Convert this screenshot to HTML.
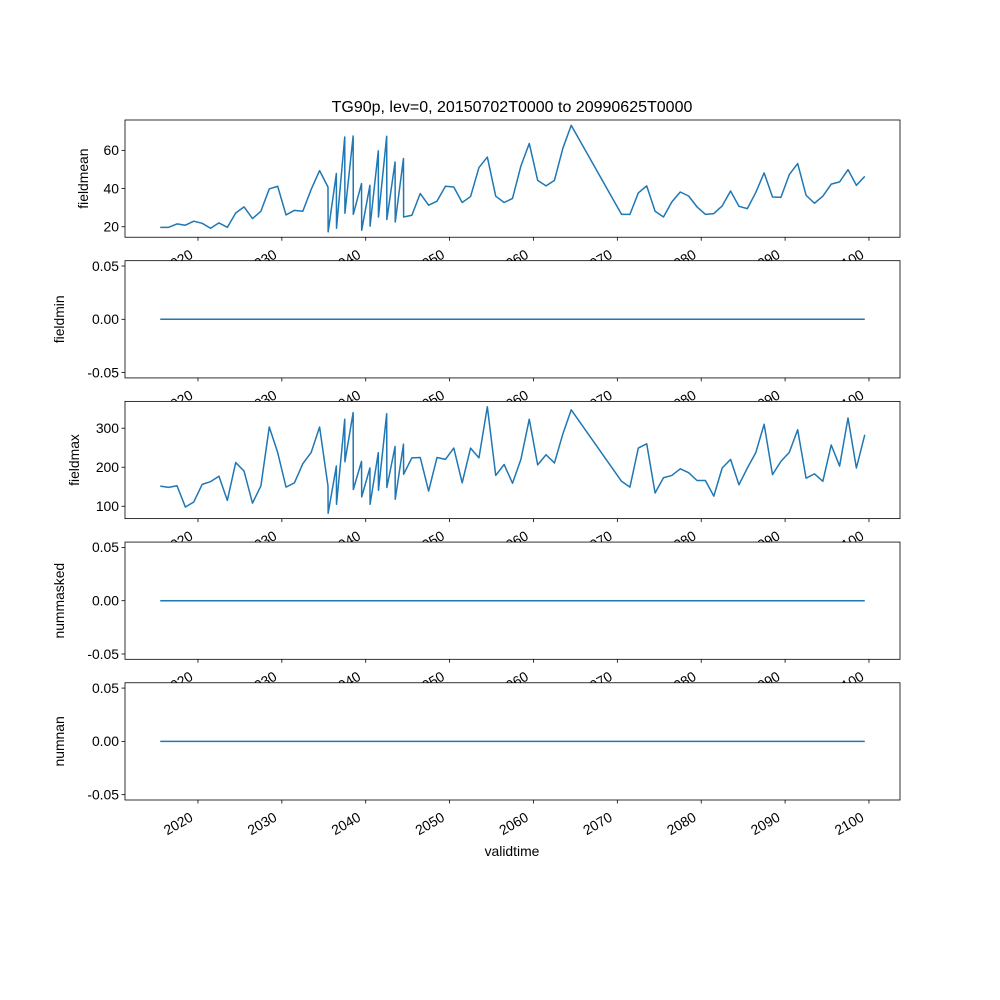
<!DOCTYPE html>
<html><head><meta charset="utf-8"><style>body{margin:0;background:#fff}svg{display:block;font-family:"Liberation Sans","DejaVu Sans",sans-serif}</style></head>
<body>
<svg id="fig" width="1000" height="1000" xmlns="http://www.w3.org/2000/svg">
<text x="512" y="112" text-anchor="middle" font-size="16">TG90p, lev=0, 20150702T0000 to 20990625T0000</text>
<text x="512" y="856" text-anchor="middle" font-size="13.9">validtime</text>
</svg>
<script>
// years with one sample each
const yearsA = [2015.5,2016.5,2017.5,2018.5,2019.5,2020.5,2021.5,2022.5,2023.5,2024.5,2025.5,2026.5,2027.5,2028.5,2029.5,2030.5,2031.5,2032.5,2033.5,2034.5];
const pairYears = [2035.5,2036.5,2037.5,2038.5,2039.5,2040.5,2041.5,2042.5,2043.5,2044.5];
const yearsB = [2045.5,2046.5,2047.5,2048.5,2049.5,2050.5,2051.5,2052.5,2053.5,2054.5,2055.5,2056.5,2057.5,2058.5,2059.5,2060.5,2061.5,2062.5,2063.5,2064.5];
const yearsC = [2070.5,2071.5,2072.5,2073.5,2074.5,2075.5,2076.5,2077.5,2078.5,2079.5,2080.5,2081.5,2082.5,2083.5,2084.5,2085.5,2086.5,2087.5,2088.5,2089.5,2090.5,2091.5,2092.5,2093.5,2094.5,2095.5,2096.5,2097.5,2098.5,2099.5];

const meanA = [19.7,19.7,21.5,20.8,22.9,21.8,19.2,22.0,19.7,27.2,30.4,24.3,28.1,39.8,41.2,26.2,28.6,28.1,39.6,49.4];
const meanPairs = [[40.8,17.3],[47.9,19.2],[67.0,27.1],[67.5,26.5],[42.6,18.2],[41.7,20.3],[59.7,25.1],[67.4,23.8],[53.9,22.5],[55.7,25.1]];
const meanB = [26.0,37.4,31.3,33.4,41.2,40.8,32.7,35.8,51.0,56.5,36.0,32.7,34.8,51.8,63.6,44.3,41.4,44.3,61.0,73.1];
const meanC = [26.5,26.5,37.7,41.4,28.1,25.1,33.0,38.2,36.1,30.4,26.5,26.9,30.9,38.7,30.7,29.5,37.9,48.2,35.6,35.4,47.3,53.1,36.5,32.3,36.0,42.3,43.5,49.9,41.7,46.4];

const maxA = [151.7,148.3,152.6,98,111,156,163,177,115,212,190,108,152,303,238,149,160,209,238,303];
const maxPairs = [[152,82],[203,105],[323,214],[340,143],[215,124],[198,105],[237,141],[337,148],[253,118],[259,182]];
const maxB = [224,225,139,225,220,249,160,249,224,355,179,207,159,220,323,206,232,211,285,347];
const maxC = [164,149,249,260,134,173,179,196,186,166,166,126,198,220,155,198,237,310,181,215,238,296,172,183,164,257,203,326,198,283];

const xTicks = [2020,2030,2040,2050,2060,2070,2080,2090,2100];
const meanTicks = [20,40,60];
const maxTicks = [100,200,300];
const zeroTicks = [-0.05,0.00,0.05];
const panelNames = ['fieldmean','fieldmin','fieldmax','nummasked','numnan'];

function buildSeries(a,pairs,b,c){
  const t=[],v=[];
  yearsA.forEach((y,i)=>{t.push(y);v.push(a[i]);});
  pairYears.forEach((y,i)=>{t.push(y);v.push(pairs[i][0]);t.push(y+0.02);v.push(pairs[i][1]);});
  yearsB.forEach((y,i)=>{t.push(y);v.push(b[i]);});
  yearsC.forEach((y,i)=>{t.push(y);v.push(c[i]);});
  return {t,v};
}
const sMean=buildSeries(meanA,meanPairs,meanB,meanC);
const sMax=buildSeries(maxA,maxPairs,maxB,maxC);
const zeroV=sMean.t.map(()=>0);
const series=[
 {t:sMean.t,v:sMean.v,ticks:meanTicks,fmt:x=>String(x)},
 {t:sMean.t,v:zeroV,ticks:zeroTicks,fmt:x=>x.toFixed(2)},
 {t:sMax.t,v:sMax.v,ticks:maxTicks,fmt:x=>String(x)},
 {t:sMean.t,v:zeroV,ticks:zeroTicks,fmt:x=>x.toFixed(2)},
 {t:sMean.t,v:zeroV,ticks:zeroTicks,fmt:x=>x.toFixed(2)}
];
const NS='http://www.w3.org/2000/svg';
const svg=document.getElementById('fig');
const L=125,R=900,H=117.24,GAP=23.45,TOP=120;
const tmin=Math.min(...sMean.t),tmax=Math.max(...sMean.t),tp=(tmax-tmin)*0.05;
const X=t=>L+(t-(tmin-tp))/((tmax+tp)-(tmin-tp))*(R-L);
function mk(tag,attrs,parent){const e=document.createElementNS(NS,tag);for(const k in attrs)e.setAttribute(k,attrs[k]);(parent||svg).appendChild(e);return e;}
series.forEach((s,p)=>{
  const top=TOP+p*(H+GAP),bot=top+H;
  let lo=Math.min(...s.v),hi=Math.max(...s.v);
  if(hi===lo){lo=-0.055;hi=0.055;}else{const pd=(hi-lo)*0.05;lo-=pd;hi+=pd;}
  const Y=v=>bot-(v-lo)/(hi-lo)*H;
  const g=mk('g',{});
  
  
  mk('rect',{x:L,y:top,width:R-L,height:H,fill:'#fff'},g);
  const d=s.t.map((t,i)=>(i?'L':'M')+X(t).toFixed(2)+','+Y(s.v[i]).toFixed(2)).join('');
  const path=mk('path',{d:d,fill:'none',stroke:'#1f77b4','stroke-width':1.5,'stroke-linejoin':'round'},g);
  
  
  mk('rect',{x:L,y:top,width:R-L,height:H,fill:'none',stroke:'#000','stroke-width':0.8},g);
  s.ticks.forEach(tv=>{
    const y=Y(tv);
    mk('line',{x1:L-3.5,x2:L,y1:y,y2:y,stroke:'#000','stroke-width':0.8},g);
    const tx=mk('text',{x:L-6,y:y+4.8,'text-anchor':'end','font-size':13.9},g);
    tx.textContent=s.fmt(tv);
    
    
  });
  const yl=mk('text',{x:0,y:0,'text-anchor':'middle','font-size':13.9},g);
  yl.setAttribute('transform',`translate(${p===0?88:(p===2?79:64)} ${top+H/2}) rotate(-90)`);
  yl.textContent=panelNames[p];
  
  
  xTicks.forEach(tv=>{
    const x=X(tv);
    mk('line',{x1:x,x2:x,y1:bot,y2:bot+3.5,stroke:'#000','stroke-width':0.8},g);
    const tx=mk('text',{x:0,y:0,'text-anchor':'end','font-size':13.9,transform:`translate(${x-4} ${bot+20}) rotate(-30)`},g);
    tx.textContent=String(tv);
    
    
  });
});
</script>
</body></html>
